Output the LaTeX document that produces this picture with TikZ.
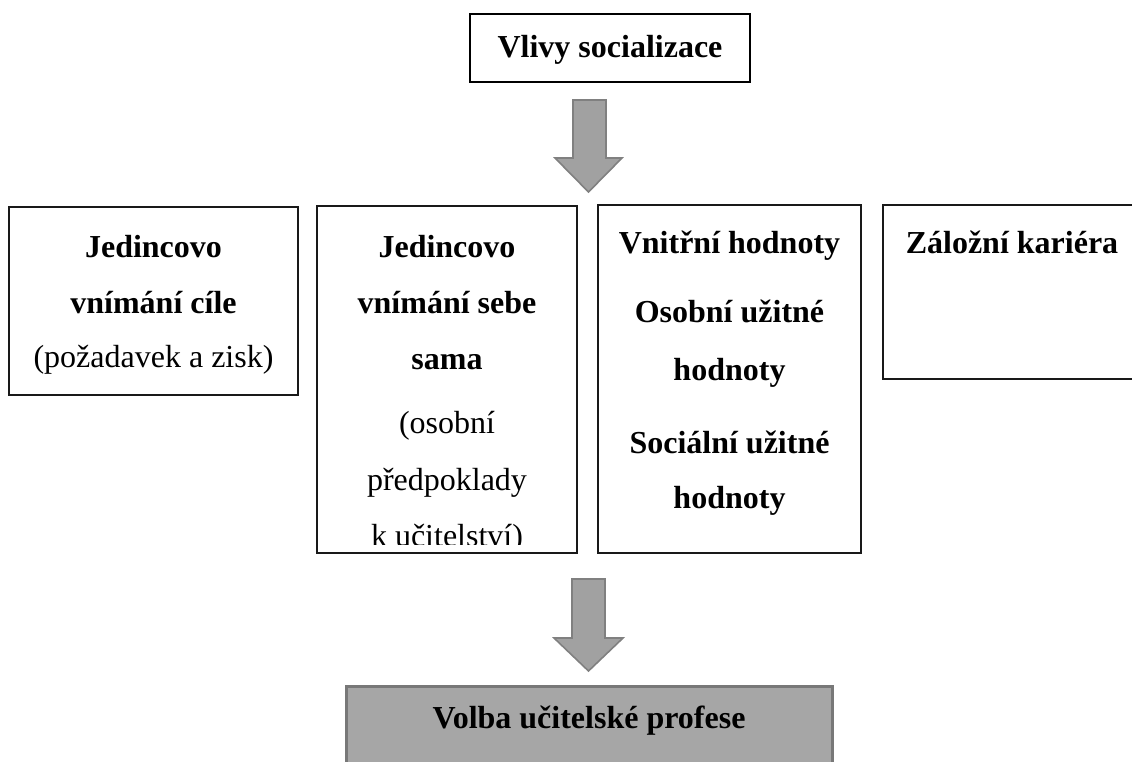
\documentclass[tikz,border=0pt]{standalone}
\usepackage{fontspec}
\setmainfont{Liberation Serif}
\begin{document}
\begin{tikzpicture}[x=1pt,y=-1pt,
  thinbox/.style={draw=black!90, line width=1.3pt, fill=white},
  topbox/.style={draw=black, line width=2.6pt, fill=white},
  endbox/.style={draw=black!53, line width=3pt, fill=black!35},
  blockarrow/.style={draw=black!50, line width=1.6pt, fill=black!37, line join=miter},
  txt/.style={inner sep=0pt, anchor=base, font=\fontsize{32}{38}\selectfont},
  btxt/.style={txt, font=\fontsize{32}{38}\selectfont\bfseries}]
\useasboundingbox (0,0) rectangle (1132,762);
\clip (0,0) rectangle (1132,762);

% top box
\draw[topbox] (470,14) rectangle (750,82);
\node[btxt] (top) at (610,58) {Vlivy socializace};

% arrow 1
\coordinate (a1tip) at (588.5,192);
\draw[blockarrow] (573,100) -- (606,100) -- (606,158) -- (622,158) -- (a1tip) -- (555,158) -- (573,158) -- cycle;

% four boxes
\draw[thinbox] (9,207) rectangle (298,395);
\draw[thinbox] (317,206) rectangle (577,553);
\draw[thinbox] (598,205) rectangle (861,553);
\draw[thinbox] (1145,205) -- (883,205) -- (883,379) -- (1145,379);

% box 1 text
\node[btxt] (b1a) at (153.5,257) {Jedincovo};
\node[btxt] (b1b) at (153.5,313) {vnímání cíle};
\node[txt]  (b1c) at (153.5,367) {(požadavek a zisk)};

% box 2 text
\node[btxt] (b2a) at (447,257) {Jedincovo};
\node[btxt] (b2b) at (447,313) {vnímání sebe};
\node[btxt] (b2c) at (447,369) {sama};
\node[txt]  (b2d) at (447,433) {(osobní};
\node[txt]  (b2e) at (447,490) {předpoklady};
\begin{scope}
\clip (317,206) rectangle (577,544);
\node[txt]  (b2f) at (447,546) {k učitelství)};
\end{scope}

% box 3 text
\node[btxt] (b3a) at (729.5,253) {Vnitřní hodnoty};
\node[btxt] (b3b) at (729.5,322) {Osobní užitné};
\node[btxt] (b3c) at (729.5,380) {hodnoty};
\node[btxt] (b3d) at (729.5,453) {Sociální užitné};
\node[btxt] (b3e) at (729.5,508) {hodnoty};

% box 4 text
\node[btxt] (b4a) at (1012,253) {Záložní kariéra};

% arrow 2
\coordinate (a2tip) at (588.5,671);
\draw[blockarrow] (572,579) -- (605,579) -- (605,638) -- (623,638) -- (a2tip) -- (554,638) -- (572,638) -- cycle;

% bottom box
\draw[endbox] (346,686) rectangle (832,800);
\node[btxt] (bot) at (589,728) {Volba učitelské profese};
\end{tikzpicture}
\end{document}
